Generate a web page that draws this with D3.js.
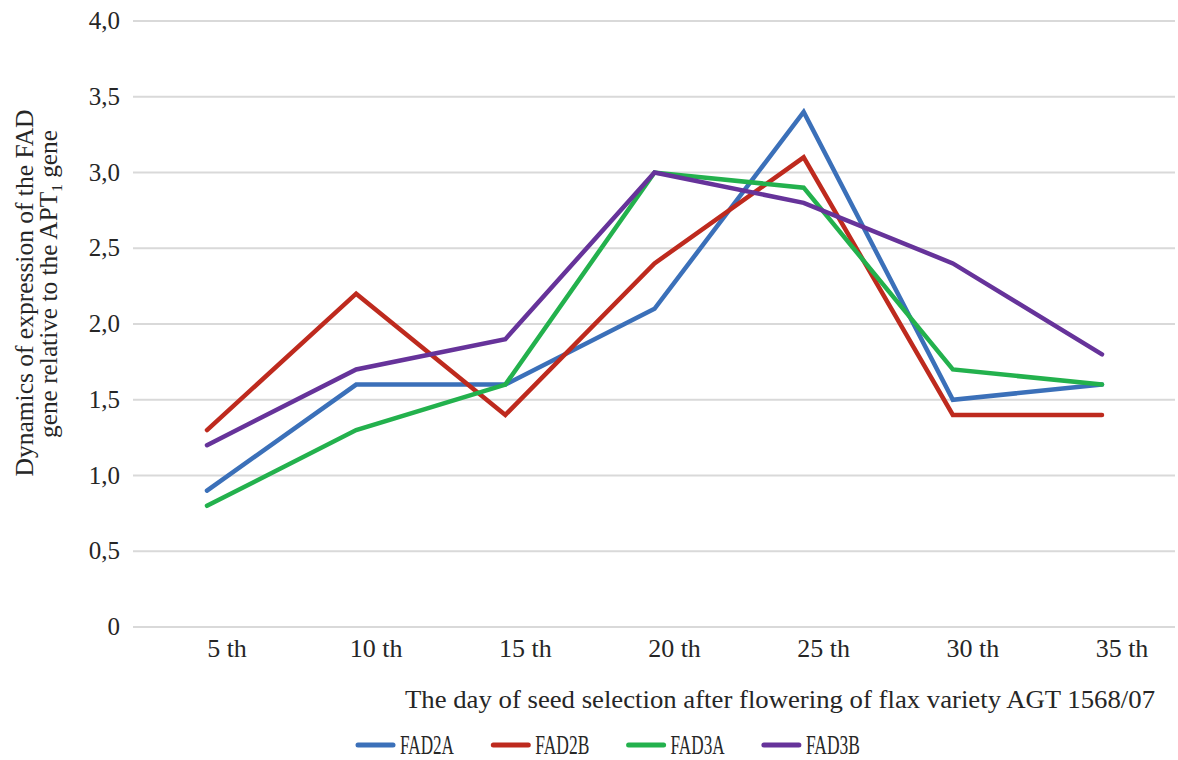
<!DOCTYPE html>
<html>
<head>
<meta charset="utf-8">
<script src="https://cdn.jsdelivr.net/npm/d3@7/dist/d3.min.js"></script>
<style>
  html, body { margin: 0; padding: 0; background: #fff; }
  svg text { font-family: "Liberation Serif", Tinos, "Times New Roman", Times, serif; fill: #262626; }
</style>
</head>
<body>
<svg id="chart" width="1178" height="760"></svg>
<script>
const categories = ["5 th", "10 th", "15 th", "20 th", "25 th", "30 th", "35 th"];
const seriesNames = ["FAD2A", "FAD2B", "FAD3A", "FAD3B"];
const fad2a = [0.9, 1.6, 1.6, 2.1, 3.4, 1.5, 1.6];
const fad2b = [1.3, 2.2, 1.4, 2.4, 3.1, 1.4, 1.4];
const fad3a = [0.8, 1.3, 1.6, 3.0, 2.9, 1.7, 1.6];
const fad3b = [1.2, 1.7, 1.9, 3.0, 2.8, 2.4, 1.8];
const yTicks = [0, 0.5, 1.0, 1.5, 2.0, 2.5, 3.0, 3.5, 4.0];
const colors = ["#3b70b9", "#be2a1e", "#23b14d", "#66339a"];
const xTitle = "The day of seed selection after flowering of flax variety AGT 1568/07";

const series = [fad2a, fad2b, fad3a, fad3b].map((v, i) => ({ name: seriesNames[i], values: v, color: colors[i] }));

const svg = d3.select("#chart");
const x = d3.scalePoint().domain(categories).range([207, 1102]);
const y = d3.scaleLinear().domain([0, 4]).range([627, 21]);

// gridlines
svg.append("g").selectAll("line").data(yTicks).join("line")
  .attr("x1", 133).attr("x2", 1175)
  .attr("y1", d => y(d)).attr("y2", d => y(d))
  .attr("stroke", "#d9d9d9").attr("stroke-width", 2);

// y tick labels
const fmt = d => d === 0 ? "0" : d3.format(".1f")(d).replace(".", ",");
svg.append("g").selectAll("text").data(yTicks).join("text")
  .attr("x", 120).attr("y", d => y(d) + 8)
  .attr("text-anchor", "end")
  .attr("font-size", 25)
  .text(fmt);

// x tick labels
svg.append("g").selectAll("text").data(categories).join("text")
  .attr("x", d => x(d) + 20).attr("y", 657)
  .attr("text-anchor", "middle")
  .attr("font-size", 26)
  .text(d => d);

// lines
const line = d3.line().x((d, i) => x(categories[i])).y(d => y(d));
svg.append("g").selectAll("path").data(series).join("path")
  .attr("d", d => line(d.values))
  .attr("fill", "none")
  .attr("stroke", d => d.color)
  .attr("stroke-width", 4.5)
  .attr("stroke-linecap", "round")
  .attr("stroke-linejoin", "miter");

// y title
const yt = svg.append("g").attr("transform", "translate(33,293) rotate(-90)");
yt.append("text").attr("text-anchor", "middle").attr("font-size", 25)
  .attr("textLength", 367).attr("lengthAdjust", "spacingAndGlyphs")
  .text("Dynamics of expression of the FAD");
const yt2 = svg.append("g").attr("transform", "translate(57,284) rotate(-90)");
const t2 = yt2.append("text").attr("text-anchor", "middle").attr("font-size", 25)
  .attr("textLength", 308).attr("lengthAdjust", "spacingAndGlyphs");
t2.append("tspan").text("gene relative to the APT");
t2.append("tspan").attr("font-size", 15).attr("dy", 5).text("1");
t2.append("tspan").attr("dy", -5).text(" gene");

// x title
svg.append("text").attr("x", 405).attr("y", 708).attr("font-size", 26)
  .attr("textLength", 750).attr("lengthAdjust", "spacingAndGlyphs")
  .text(xTitle);

// legend
const leg = svg.append("g").selectAll("g").data(series).join("g")
  .attr("transform", (d, i) => `translate(${358 + i * 135.3},745)`);
leg.append("line").attr("x1", 0).attr("x2", 35).attr("y1", 0).attr("y2", 0)
  .attr("stroke", d => d.color).attr("stroke-width", 5).attr("stroke-linecap", "round");
leg.append("text").attr("x", 42).attr("y", 9).attr("font-size", 27)
  .attr("textLength", 54).attr("lengthAdjust", "spacingAndGlyphs")
  .text(d => d.name);
</script>
</body>
</html>
